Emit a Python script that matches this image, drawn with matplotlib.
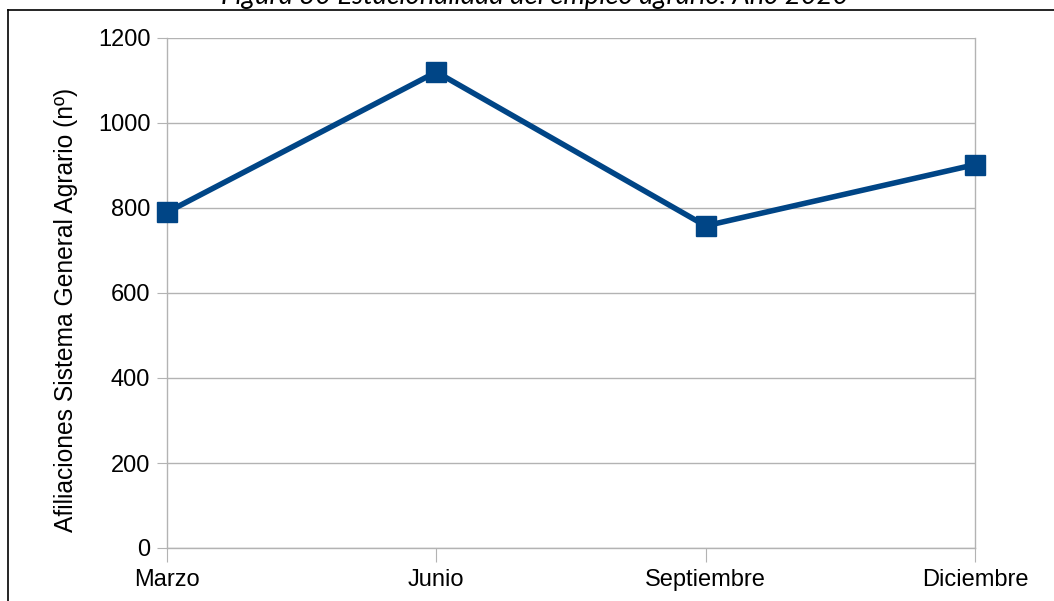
import matplotlib
matplotlib.use("Agg")
import matplotlib.pyplot as plt
from matplotlib.lines import Line2D

# Seasonal agricultural employment, 2020
months = ["Marzo", "Junio", "Septiembre", "Diciembre"]
afiliaciones = [790, 1120, 758, 902]
y_ticks = [0, 200, 400, 600, 800, 1000, 1200]

title = "Figura 30 Estacionalidad del empleo agrario. Año 2020"
y_label = "Afiliaciones Sistema General Agrario (nº)"

W, H = 1054, 601
fig = plt.figure(figsize=(W / 100, H / 100), dpi=100)
fig.patch.set_facecolor("white")

plt.rcParams["font.family"] = ["Liberation Sans", "DejaVu Sans"]

# plot area in pixel terms
left, right, top, bottom = 167, 975, 38, 548
ax = fig.add_axes([left / W, 1 - bottom / H, (right - left) / W, (bottom - top) / H])

x = list(range(len(months)))
ax.plot(x, afiliaciones, color="#004586", linewidth=4.0, marker="s",
        markersize=14, solid_joinstyle="miter", clip_on=False, zorder=5)

grid_col = "#b3b3b3"
ax.set_xlim(0, len(months) - 1)
ax.set_ylim(0, 1200)
ax.set_yticks(y_ticks)
ax.set_xticks(x)
ax.set_xticklabels(months)
ax.yaxis.grid(True, color=grid_col, linewidth=1)
ax.set_axisbelow(True)
for s in ["left", "right", "bottom"]:
    ax.spines[s].set_color(grid_col)
    ax.spines[s].set_linewidth(1)
ax.spines["top"].set_visible(False)
ax.tick_params(axis="y", length=7, color=grid_col, labelsize=17, pad=5)
ax.tick_params(axis="x", length=10, color=grid_col, labelsize=17, pad=5)

# vertical axis title, sitting slightly below the plot's middle
fig.text(66 / W, 1 - 310 / H, y_label, rotation=90, ha="center", va="center",
         fontsize=17.7)

# outer frame of the figure
fig.add_artist(Line2D([8 / W, 8 / W], [0, 1 - 10 / H], color="black",
                      linewidth=1.2, transform=fig.transFigure))
fig.add_artist(Line2D([8 / W, 1], [1 - 10 / H, 1 - 10 / H], color="black",
                      linewidth=1.2, transform=fig.transFigure))

# caption, running off the top edge
fig.text(535 / W, 1 - 4 / H, title, ha="center", va="baseline",
         fontsize=19.7, style="italic", family=["Lato", "DejaVu Sans"])

fig.savefig("out.png", dpi=100)
